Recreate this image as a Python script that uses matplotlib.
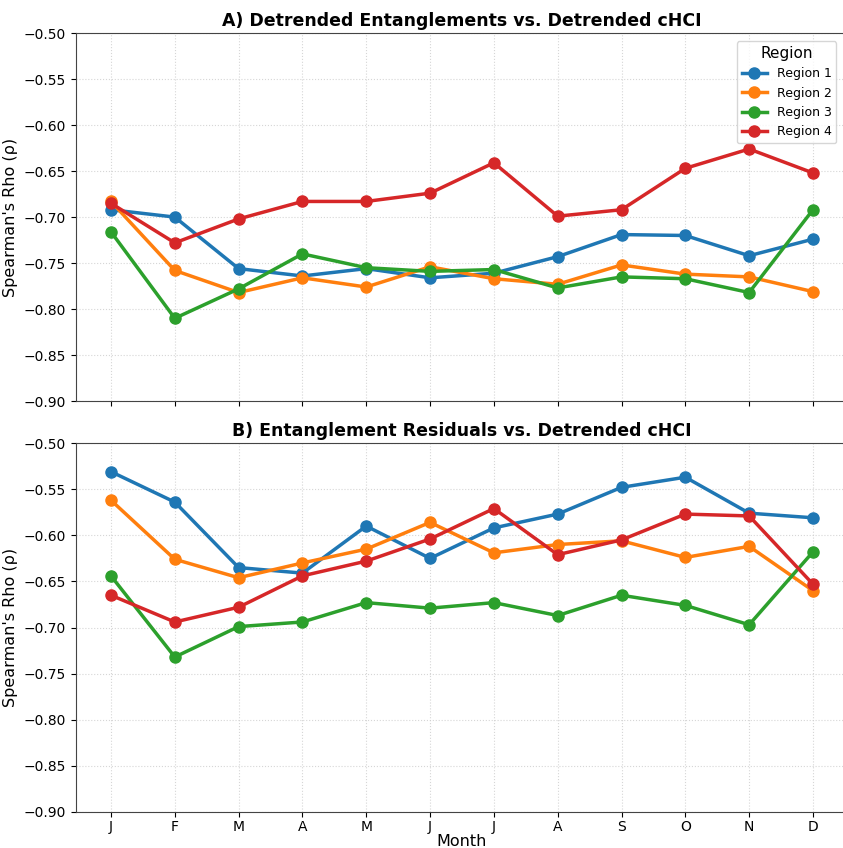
import matplotlib
matplotlib.use("Agg")
import matplotlib.pyplot as plt
import numpy as np

# ---------------------------------------------------------------------------
# Data
# ---------------------------------------------------------------------------
MONTHS = ["J", "F", "M", "A", "M", "J", "J", "A", "S", "O", "N", "D"]
REGIONS = ["Region 1", "Region 2", "Region 3", "Region 4"]
COLORS = ["#1f77b4", "#ff7f0e", "#2ca02c", "#d62728"]

# Panel A: detrended entanglements vs detrended cHCI
A_R1 = [-0.692, -0.700, -0.756, -0.764, -0.756, -0.766, -0.761, -0.743, -0.719, -0.720, -0.742, -0.724]
A_R2 = [-0.683, -0.758, -0.782, -0.766, -0.776, -0.754, -0.767, -0.773, -0.752, -0.762, -0.765, -0.781]
A_R3 = [-0.716, -0.810, -0.778, -0.740, -0.755, -0.759, -0.757, -0.777, -0.765, -0.767, -0.782, -0.692]
A_R4 = [-0.685, -0.728, -0.702, -0.683, -0.683, -0.674, -0.641, -0.699, -0.692, -0.647, -0.626, -0.652]

# Panel B: entanglement residuals vs detrended cHCI
B_R1 = [-0.531, -0.564, -0.635, -0.641, -0.590, -0.625, -0.592, -0.577, -0.548, -0.537, -0.576, -0.581]
B_R2 = [-0.562, -0.626, -0.646, -0.630, -0.615, -0.586, -0.619, -0.610, -0.606, -0.624, -0.612, -0.660]
B_R3 = [-0.644, -0.732, -0.699, -0.694, -0.673, -0.679, -0.673, -0.687, -0.665, -0.676, -0.697, -0.618]
B_R4 = [-0.665, -0.694, -0.678, -0.644, -0.628, -0.604, -0.571, -0.621, -0.605, -0.577, -0.579, -0.653]

PANELS = [
    ("A) Detrended Entanglements vs. Detrended cHCI", [A_R1, A_R2, A_R3, A_R4]),
    ("B) Entanglement Residuals vs. Detrended cHCI", [B_R1, B_R2, B_R3, B_R4]),
]

# ---------------------------------------------------------------------------
# Plot
# ---------------------------------------------------------------------------
fig = plt.figure(figsize=(8.43, 8.48), dpi=100)
ax_a = fig.add_axes([0.090, 0.527, 0.916, 0.434])
ax_b = fig.add_axes([0.090, 0.0425, 0.916, 0.435], sharex=ax_a)

x = np.arange(len(MONTHS))
for ax, (title, series) in zip([ax_a, ax_b], PANELS):
    for name, vals, color in zip(REGIONS, series, COLORS):
        ax.plot(x, vals, marker="o", color=color, linewidth=2.5,
                markersize=8, label=name)
    ax.set_title(title, fontsize=12.5, fontweight="bold", pad=5)
    ax.set_ylim(-0.90, -0.50)
    ax.set_yticks(np.arange(-0.90, -0.499, 0.05))
    ax.set_ylabel("Spearman's Rho (ρ)", fontsize=11.5)
    ax.grid(True, linestyle=":", linewidth=0.8, color="#cccccc", alpha=0.8)
    ax.tick_params(labelsize=10)
    for sp in ax.spines.values():
        sp.set_color("#444444")

ax_b.set_xticks(x)
ax_b.set_xticklabels(MONTHS)
ax_b.tick_params(axis="x", pad=2)
ax_b.set_xlabel("Month", fontsize=11.5, labelpad=0)
ax_a.tick_params(axis="x", labelbottom=False)

leg = ax_a.legend(title="Region", loc="upper right", fontsize=9,
                  title_fontsize=11, bbox_to_anchor=(0.993, 0.995))

fig.savefig("out.png", dpi=100)
